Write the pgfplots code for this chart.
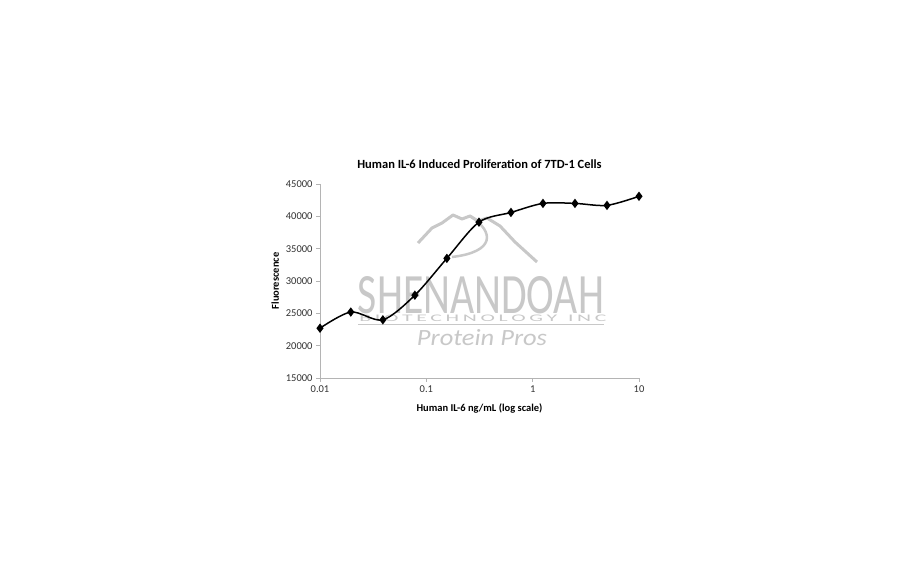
\documentclass[border=0pt]{standalone}
\usepackage{pgfplots}
\pgfplotsset{compat=1.18}
\usepackage{fontspec}
\setmainfont{Carlito}
\setsansfont{Carlito}
\definecolor{wm}{RGB}{200,200,200}
\definecolor{axgray}{RGB}{180,180,180}
\begin{document}
\begin{tikzpicture}[x=1pt,y=1pt]
\path[use as bounding box, fill=white] (0,0) rectangle (912,562);
% watermark
\draw[wm, line width=3pt, line join=round] (418,319) -- (432,334) -- (442,339) -- (453,347) -- (462,343) -- (470,346) -- (478,341) -- (487,344) -- (500,336) -- (515,320) -- (537,300);
\draw[wm, line width=2.5pt] (470,346) .. controls (495,330) and (495,310) .. (452,305);
\node[wm, inner sep=0pt] at (481,267) {\resizebox{246pt}{37pt}{\textsf{SHENANDOAH}}};
\node[wm, inner sep=0pt] at (483,244) {\resizebox{247pt}{6.5pt}{\textsf{B\,I\,O\,T\,E\,C\,H\,N\,O\,L\,O\,G\,Y\,\,\,I\,N\,C}}};
\draw[wm, line width=1pt] (358,237) -- (604,237);
\node[wm, inner sep=0pt] at (482,224) {\resizebox{130pt}{16pt}{\itshape Protein Pros}};
\begin{axis}[
  at={(320pt,184pt)}, anchor=south west,
  scale only axis, width=319pt, height=194pt,
  xmode=log, xmin=0.01, xmax=10,
  ymin=15000, ymax=45000,
  ytick={15000,20000,25000,30000,35000,40000,45000},
  xtick={0.01,0.1,1,10},
  xticklabels={0.01,0.1,1,10},
  scaled y ticks=false,
  yticklabel style={/pgf/number format/1000 sep=},
  /pgf/number format/assume math mode=true,
  axis x line*=bottom, axis y line*=left,
  axis line style={axgray, line width=0.8pt, -},
  tick style={axgray, line width=0.8pt},
  tick align=outside, major tick length=4pt,
  minor tick num=0, xminorticks=false,
  ticklabel style={font=\fontsize{10.5}{12}\selectfont, text=black!80},
  title={\textbf{Human IL-6 Induced Proliferation of 7TD-1 Cells}},
  title style={font=\fontsize{12.5}{14}\selectfont, yshift=6pt},
  xlabel={\textbf{Human IL-6 ng/mL (log scale)}},
  ylabel={\textbf{Fluorescence}},
  label style={font=\fontsize{10.5}{12}\selectfont},
  xlabel style={yshift=-4pt},
  clip=false,
]
\addplot[black, line width=1.5pt, smooth, tension=0.5, mark=diamond*, mark size=3.5pt, mark options={solid, fill=black}]
coordinates {(0.01,22700) (0.0195,25200) (0.039,24000) (0.078,27800) (0.156,33500) (0.3125,39100) (0.625,40600) (1.25,42000) (2.5,42000) (5,41700) (10,43100)};
\end{axis}
\end{tikzpicture}
\end{document}
